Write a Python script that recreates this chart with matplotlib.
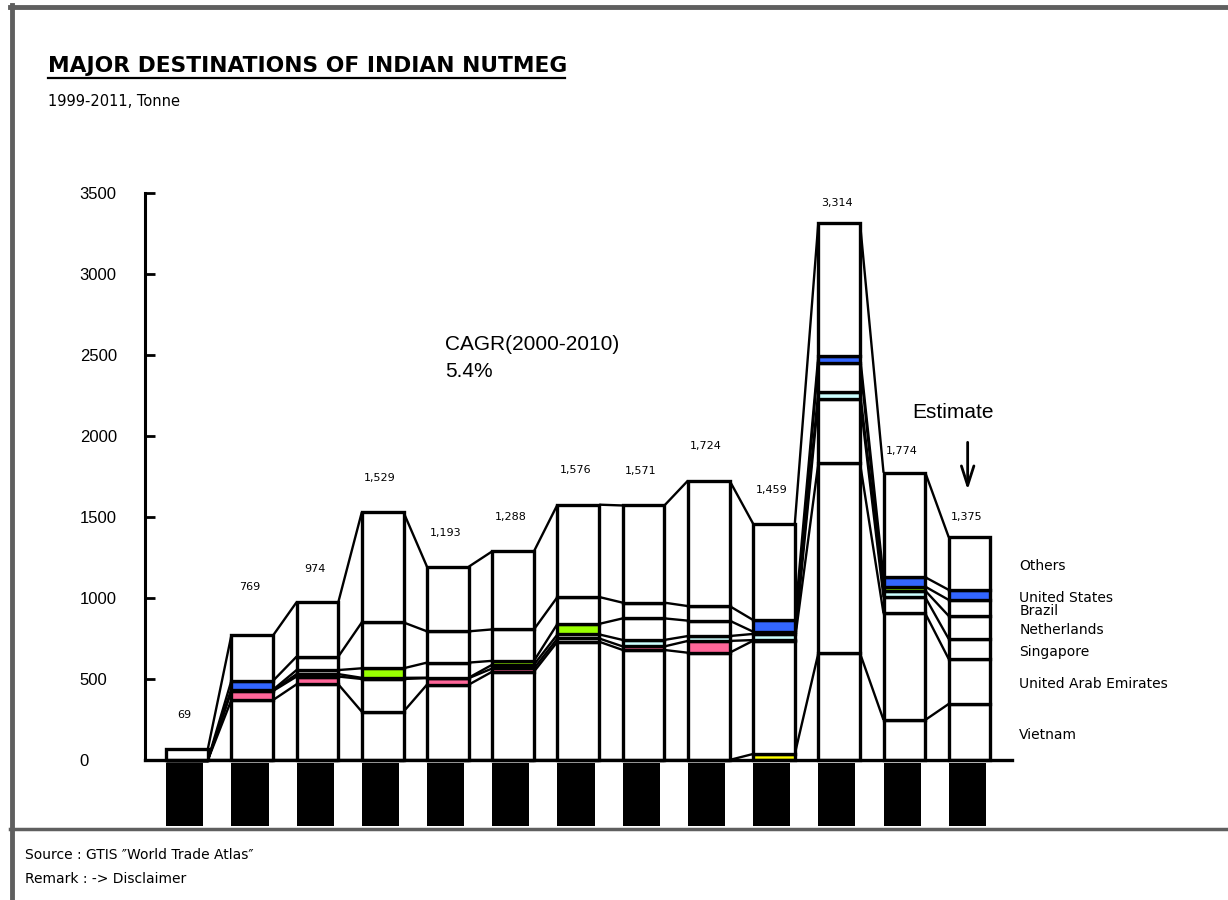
import matplotlib
matplotlib.use("Agg")
from matplotlib import pyplot as plt
from matplotlib.lines import Line2D
import numpy as np

plt.rcParams['font.family'] = ['DejaVu Sans']

years = list(range(1999, 2012))
totals = [69, 769, 974, 1529, 1193, 1288, 1576, 1571, 1724, 1459, 3314, 1774, 1375]

countries = ["Vietnam", "United Arab Emirates", "Singapore", "Netherlands",
             "Brazil", "United States", "Others"]

# tonnes per destination, stacked bottom -> top
vietnam = [0, 0, 0, 0, 0, 0, 0, 0, 0, 37, 658, 247, 346]
uae = [0, 370, 467, 298, 465, 545, 730, 679, 662, 699, 1173, 658, 277]
singapore = [0, 56, 48, 202, 40, 20, 20, 22, 73, 4, 395, 99, 124]
netherlands = [0, 3, 15, 7, 3, 23, 25, 40, 30, 38, 46, 41, 142]
brazil = [0, 5, 25, 59, 93, 24, 65, 133, 95, 14, 180, 25, 99]
usa = [0, 55, 83, 283, 193, 194, 166, 97, 90, 72, 42, 58, 62]
others = [69, 280, 336, 680, 399, 482, 570, 600, 774, 595, 820, 646, 325]

# years in which a segment is shown in colour
highlight = {
    "Vietnam": [2008],
    "Singapore": [2000, 2001, 2003, 2004, 2006, 2007],
    "Netherlands": [2006, 2007, 2008, 2009, 2010],
    "Brazil": [2002, 2004, 2005, 2010],
    "United States": [2000, 2008, 2009, 2010, 2011],
}
seg_colors = {"Vietnam": "#FFFF00", "Singapore": "#FF6699", "Netherlands": "#CCFFFF",
              "Brazil": "#99FF00", "United States": "#3366FF"}

W, H = 1228, 900
fig = plt.figure(figsize=(W / 100, H / 100), dpi=100)
ax = fig.add_axes([145 / W, 1 - 828 / H, (1012 - 145) / W, (828 - 193) / H])
ax.set_xlim(-0.644, 12.65)
ax.set_ylim(-420, 3500)

x = np.arange(len(years))
w = 0.64

series = [vietnam, uae, singapore, netherlands, brazil, usa, others]
bottom = np.zeros(len(years))
bounds = [bottom.copy()]
for name, vals in zip(countries, series):
    vals = np.array(vals, dtype=float)
    fills = [seg_colors[name] if y in highlight.get(name, []) else "white" for y in years]
    ax.bar(x, vals, w, bottom=bottom, color=fills, edgecolor="black",
           linewidth=2.4, zorder=3)
    bottom = bottom + vals
    bounds.append(bottom.copy())

# connector lines between neighbouring bars
for b in bounds[1:]:
    for i in range(len(years) - 1):
        ax.plot([x[i] + w / 2, x[i + 1] - w / 2], [b[i], b[i + 1]],
                color="black", lw=1.7, zorder=2, solid_capstyle="butt")

# blacked-out year labels
ax.bar(x - w / 2, -385, 0.57, bottom=-20, align="edge", color="black", zorder=3)

# totals above bars
label_offsets = [24.5, 35, 24, 25, 24.5, 25, 25, 25, 25, 24.5, 14.5, 15.5, 14.5]
for i, t in enumerate(totals):
    ax.annotate(f"{t:,}", (x[i] - 0.04, t), xytext=(0, label_offsets[i]),
                textcoords="offset points", ha="center", va="center", fontsize=8)

# series labels next to last bar
last = len(years) - 1
for k, name in enumerate(countries):
    mid = (bounds[k][last] + bounds[k + 1][last]) / 2
    ax.text(x[last] + 0.76, mid - 18, name, ha="left", va="center", fontsize=10,
            clip_on=False)

ax.text(3.96, 2562, "CAGR(2000-2010)", fontsize=15, family="Liberation Sans", va="center")
ax.text(3.96, 2395, "5.4%", fontsize=15, family="Liberation Sans", va="center")
ax.text(x[last] - 0.26, 2148, "Estimate", fontsize=15, family="Liberation Sans",
        ha="center", va="center")
ax.annotate("", xy=(x[last] - 0.03, 1650), xytext=(x[last] - 0.03, 1978),
            arrowprops=dict(arrowstyle="->,head_length=1.4,head_width=0.45",
                            lw=2, color="black"))

# axes styling
for s in ["top", "right"]:
    ax.spines[s].set_visible(False)
ax.spines["left"].set_bounds(0, 3500)
ax.spines["left"].set_linewidth(2.2)
ax.spines["bottom"].set_position(("data", 0))
ax.spines["bottom"].set_linewidth(2.4)
ax.spines["bottom"].set_zorder(4)
ax.set_xticks([])
ax.set_yticks(range(0, 3501, 500))
ax.tick_params(axis="y", direction="in", length=7, width=2, pad=47)
for lab in ax.get_yticklabels():
    lab.set_ha("left")
    lab.set_family("Liberation Sans")
    lab.set_fontsize(12)

# titles and notes
fig.text(48 / W, 1 - 66 / H, "MAJOR DESTINATIONS OF INDIAN NUTMEG", fontsize=15.7,
         fontweight="bold", va="center")
fig.add_artist(Line2D([48 / W, 565 / W], [1 - 78 / H] * 2, color="black", lw=1.6))
fig.text(48 / W, 1 - 101 / H, "1999-2011, Tonne", fontsize=10.5, va="center")
fig.text(25 / W, 1 - 855 / H, "Source : GTIS \u2033World Trade Atlas\u2033", fontsize=10, va="center")
fig.text(25 / W, 1 - 879 / H, "Remark : -> Disclaimer", fontsize=10, va="center")

# frame
gray = "#5f5f5f"
fig.add_artist(Line2D([10 / W, 1], [1 - 7 / H] * 2, color=gray, lw=3.5))
fig.add_artist(Line2D([12 / W, 12 / W], [0, 1 - 5 / H], color=gray, lw=3.5))
fig.add_artist(Line2D([10 / W, 1], [1 - 829 / H] * 2, color=gray, lw=2.5))

fig.savefig("out.png", dpi=100, facecolor="white")
